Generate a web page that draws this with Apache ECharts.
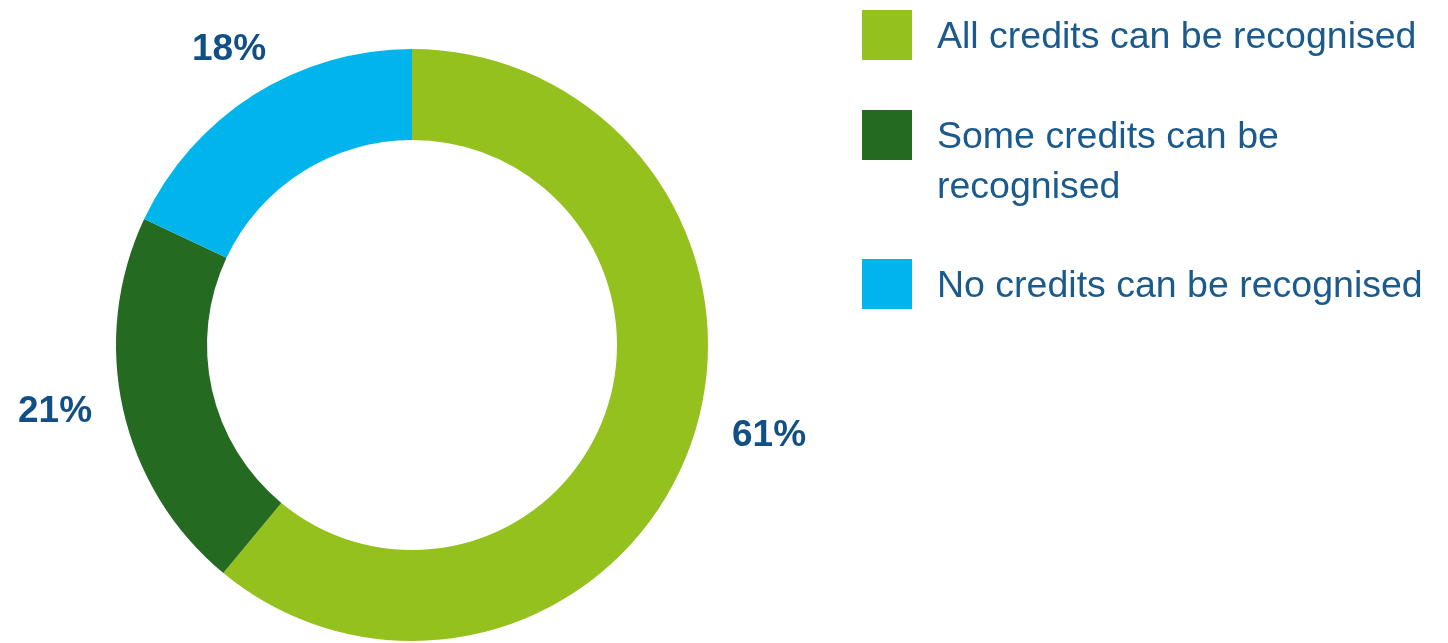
<!DOCTYPE html>
<html>
<head>
<meta charset="utf-8">
<script src="https://cdn.jsdelivr.net/npm/echarts@6/dist/echarts.min.js"></script>
<style>
html,body{margin:0;padding:0;background:#fff;}
#chart{width:1448px;height:643px;}
</style>
</head>
<body>
<div id="chart"></div>
<script>
var categories = ['All credits can be recognised', 'Some credits can be recognised', 'No credits can be recognised'];
var legendLabels = ['All credits can be recognised', 'Some credits can be\nrecognised', 'No credits can be recognised'];
var values = [61, 21, 18];
var colors = ['#95c11f', '#246b21', '#00b5ec'];

var labelPos = [[769, 436], [55, 412], [229, 50]];
var legendTops = [10, 110, 259];

var chart = echarts.init(document.getElementById('chart'));

var legendGraphics = [];
categories.forEach(function (c, i) {
  legendGraphics.push({
    type: 'rect', left: 862, top: legendTops[i],
    shape: {width: 50, height: 50},
    style: {fill: colors[i]}
  });
  legendGraphics.push({
    type: 'text', x: 937, y: legendTops[i] + 3,
    style: {
      text: legendLabels[i], fill: '#1b5a8c',
      font: '37.5px "Liberation Sans", sans-serif',
      lineHeight: 50,
      verticalAlign: 'top'
    }
  });
});

chart.setOption({
  animation: false,
  graphic: legendGraphics,
  series: [{
    type: 'pie',
    center: [412, 345],
    radius: [205, 296],
    startAngle: 90,
    clockwise: true,
    avoidLabelOverlap: false,
    itemStyle: {borderWidth: 0},
    label: {
      show: true,
      position: 'outside',
      formatter: '{c}%',
      color: '#124f85',
      fontFamily: '"Liberation Sans", sans-serif',
      fontWeight: 'bold',
      fontSize: 37
    },
    labelLine: {show: false},
    labelLayout: function (p) {
      return {x: labelPos[p.dataIndex][0], y: labelPos[p.dataIndex][1], align: 'center', verticalAlign: 'middle'};
    },
    emphasis: {disabled: true},
    data: categories.map(function (c, i) {
      return {name: c, value: values[i], itemStyle: {color: colors[i]}};
    })
  }]
});
</script>
</body>
</html>
